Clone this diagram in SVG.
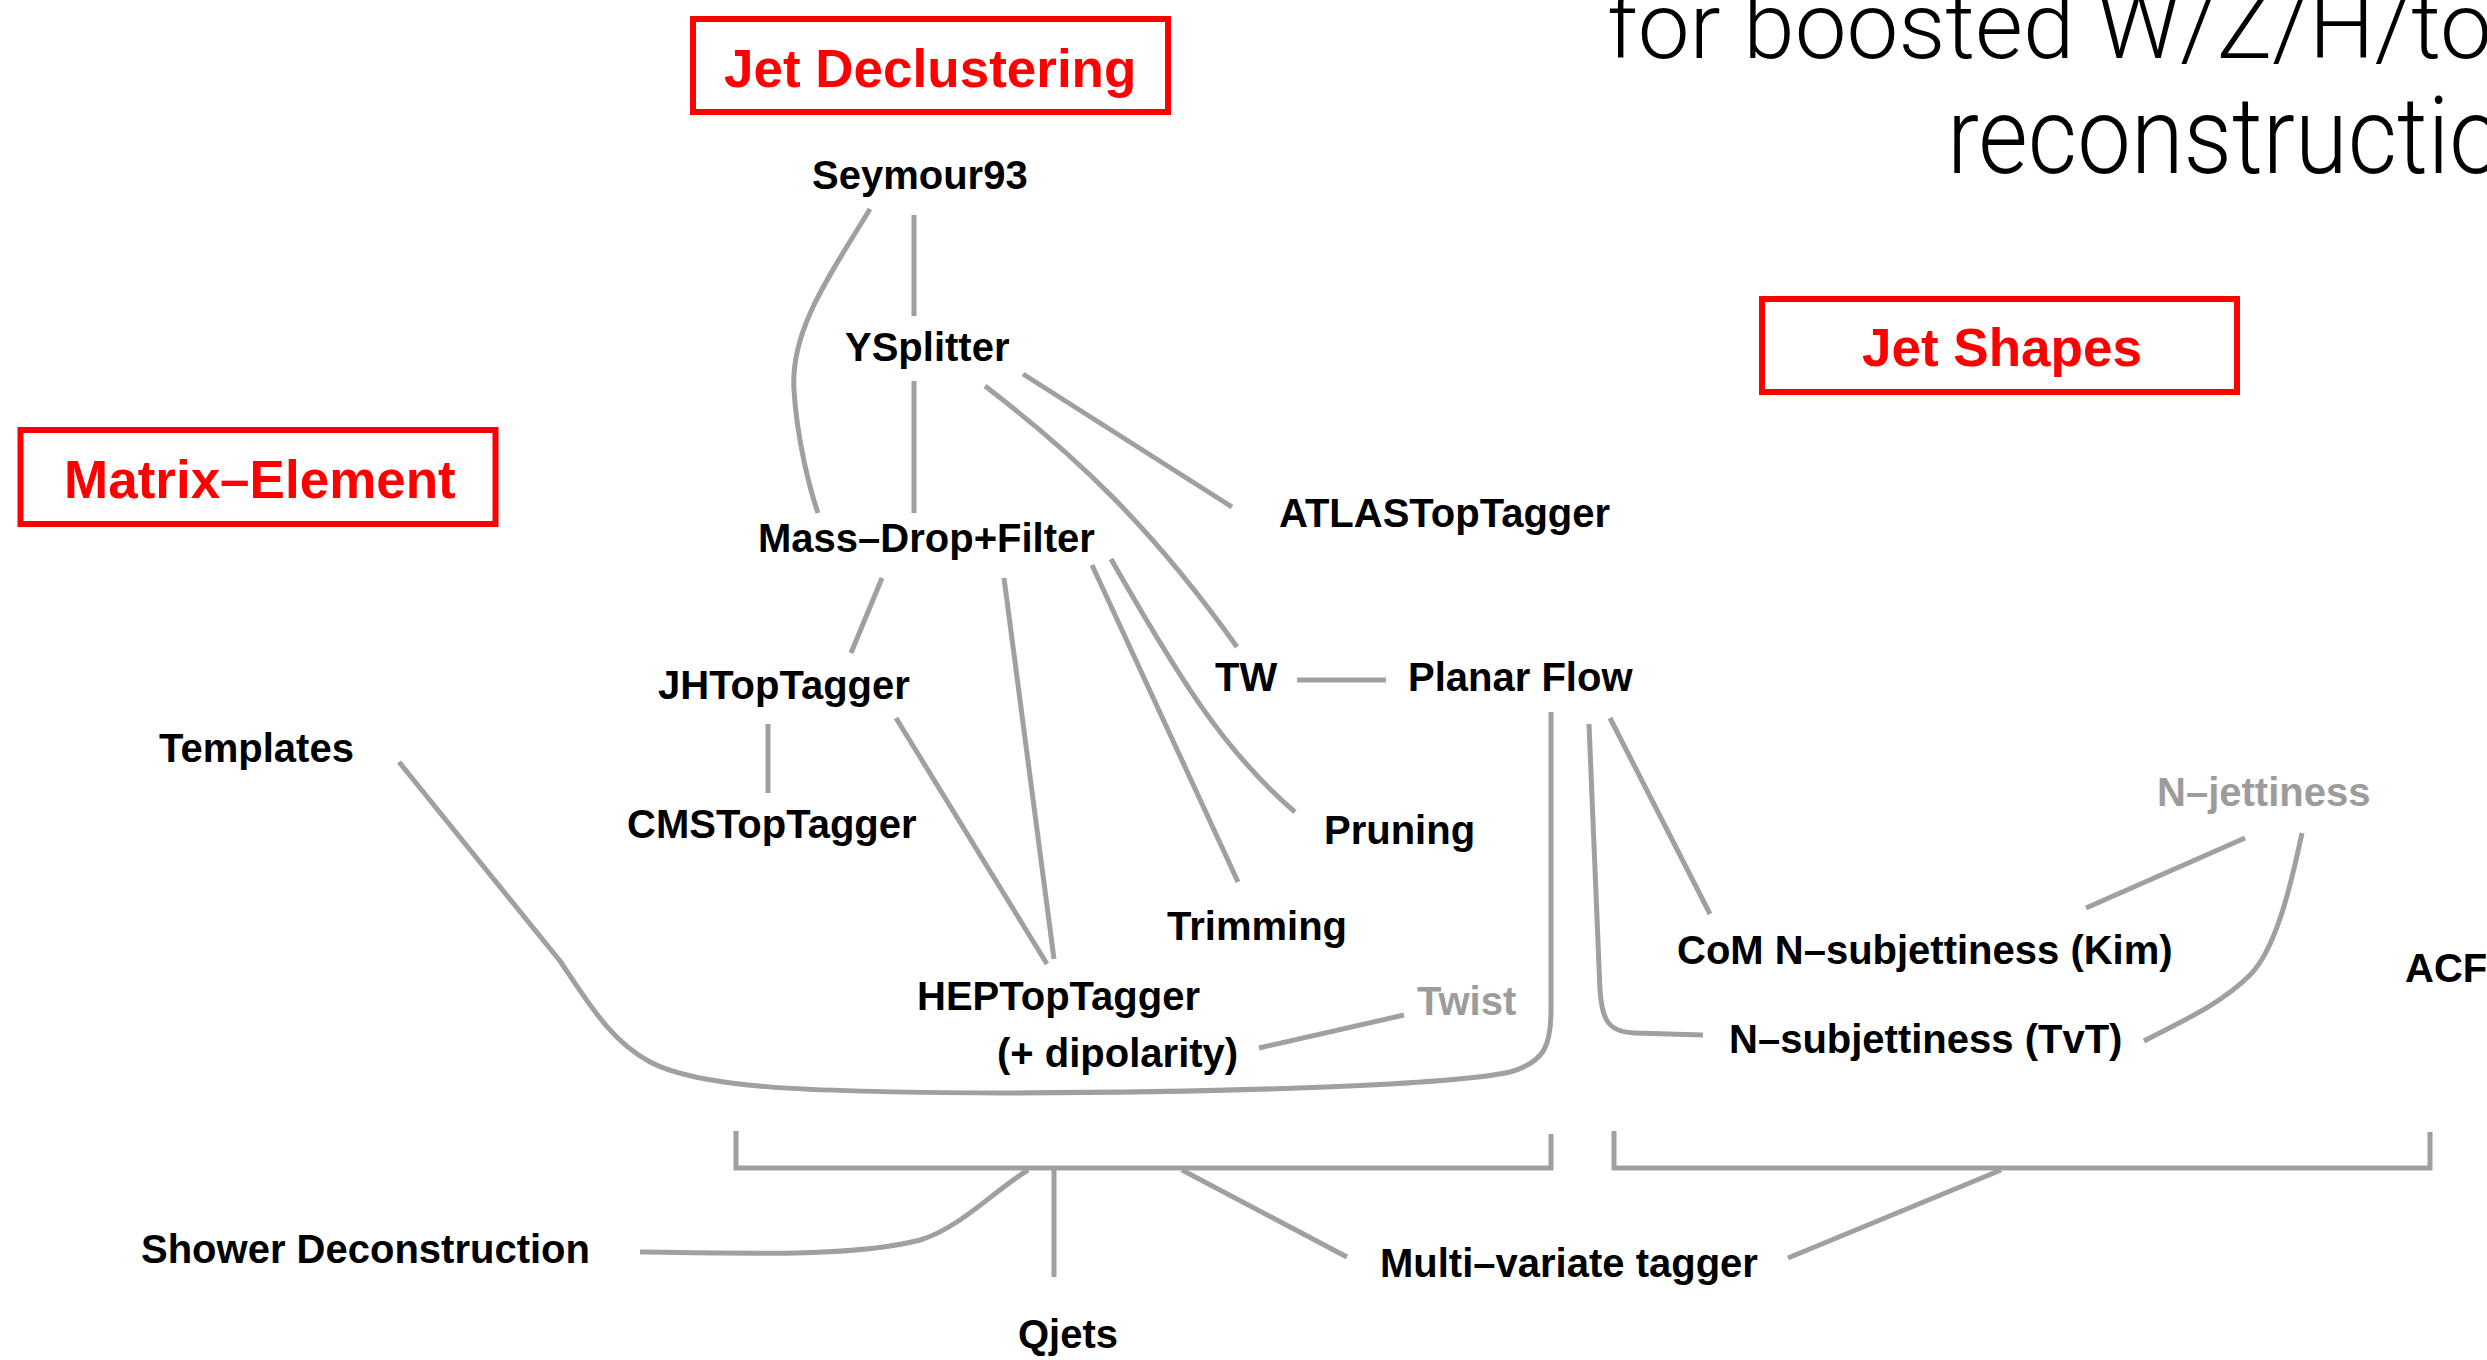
<svg xmlns="http://www.w3.org/2000/svg" width="2487" height="1360" viewBox="0 0 2487 1360">
<style>
.lbl{font-family:"Liberation Sans",Arial,Helvetica,sans-serif;font-weight:bold;font-size:40px;fill:#000}
.gray{fill:#9c9c9c}
.cat rect{fill:none;stroke:#ff0000;stroke-width:6}
.cat text{font-family:"Liberation Sans",Arial,Helvetica,sans-serif;font-weight:bold;font-size:53px;fill:#ff0000}
.title{font-family:"Roboto","Open Sans","Liberation Sans",sans-serif;font-weight:300;fill:#000}
.edge{fill:none;stroke:#a0a0a0;stroke-width:5}
</style>
<rect width="2487" height="1360" fill="#fff"/>
<g id="title">
<text class="title" x="1607" y="58" font-size="92" textLength="885" lengthAdjust="spacingAndGlyphs">for boosted W/Z/H/to</text>
<text class="title" x="1947" y="173" font-size="107" textLength="556" lengthAdjust="spacingAndGlyphs">reconstructio</text>
</g>
<g id="connectors">
<path class="edge" d="M914,215 L914,316"/>
<path class="edge" d="M870,209 C830,275 790,330 794,390 C797,440 810,490 818,513"/>
<path class="edge" d="M914,381 L914,513"/>
<path class="edge" d="M1023,374 L1232,507"/>
<path class="edge" d="M985,386 C1075,455 1150,525 1237,647"/>
<path class="edge" d="M882,578 L851,653"/>
<path class="edge" d="M1004,578 L1054,959"/>
<path class="edge" d="M1092,565 L1238,882"/>
<path class="edge" d="M1111,559 C1180,680 1225,752 1295,812"/>
<path class="edge" d="M768,724 L768,793"/>
<path class="edge" d="M896,718 L1047,964"/>
<path class="edge" d="M1297,680 L1386,680"/>
<path class="edge" d="M399,762 L560,961 C590,1005 610,1040 650,1062 C700,1088 800,1092 1000,1093 C1250,1092 1450,1085 1510,1072 C1545,1062 1551,1045 1551,1010 L1551,712"/>
<path class="edge" d="M1589,724 L1600,990 C1602,1020 1608,1032 1635,1033 L1703,1035"/>
<path class="edge" d="M1610,718 L1710,914"/>
<path class="edge" d="M2086,908 L2245,838"/>
<path class="edge" d="M2144,1041 C2180,1022 2220,1005 2250,975 C2275,950 2290,890 2302,833"/>
<path class="edge" d="M1259,1048 L1404,1015"/>
<path class="edge" d="M736,1131 L736,1168 L1551,1168 L1551,1134"/>
<path class="edge" d="M1614,1131 L1614,1168 L2430,1168 L2430,1132"/>
<path class="edge" d="M1182,1170 L1347,1257"/>
<path class="edge" d="M2001,1170 L1788,1258"/>
<path class="edge" d="M1054,1168 L1054,1277"/>
<path class="edge" d="M640,1252 C760,1254 860,1256 920,1240 C960,1228 995,1190 1028,1170"/>
</g>
<g id="cat-jet-declustering" class="cat"><rect x="693" y="19" width="475" height="93"/><text x="724" y="87">Jet Declustering</text></g>
<g id="cat-matrix-element" class="cat"><rect x="20.5" y="430" width="475" height="94"/><text x="64" y="498">Matrix–Element</text></g>
<g id="cat-jet-shapes" class="cat"><rect x="1762" y="299" width="475" height="93"/><text x="1862" y="366">Jet Shapes</text></g>
<g id="n-seymour93"><text class="lbl" x="812" y="189">Seymour93</text></g>
<g id="n-ysplitter"><text class="lbl" x="845" y="361">YSplitter</text></g>
<g id="n-massdrop"><text class="lbl" x="758" y="552">Mass–Drop+Filter</text></g>
<g id="n-atlas"><text class="lbl" x="1279" y="527">ATLASTopTagger</text></g>
<g id="n-jh"><text class="lbl" x="658" y="699">JHTopTagger</text></g>
<g id="n-tw"><text class="lbl" x="1215" y="691">TW</text></g>
<g id="n-planarflow"><text class="lbl" x="1408" y="691">Planar Flow</text></g>
<g id="n-templates"><text class="lbl" x="159" y="762">Templates</text></g>
<g id="n-cms"><text class="lbl" x="627" y="838">CMSTopTagger</text></g>
<g id="n-pruning"><text class="lbl" x="1324" y="844">Pruning</text></g>
<g id="n-trimming"><text class="lbl" x="1167" y="940">Trimming</text></g>
<g id="n-hep"><text class="lbl" x="917" y="1010">HEPTopTagger</text><text class="lbl" x="997" y="1067">(+ dipolarity)</text></g>
<g id="n-twist"><text class="lbl gray" x="1417" y="1015">Twist</text></g>
<g id="n-com"><text class="lbl" x="1677" y="964">CoM N–subjettiness (Kim)</text></g>
<g id="n-tvt"><text class="lbl" x="1729" y="1053">N–subjettiness (TvT)</text></g>
<g id="n-njettiness"><text class="lbl gray" x="2157" y="806">N–jettiness</text></g>
<g id="n-acf"><text class="lbl" x="2405" y="982">ACF</text></g>
<g id="n-shower"><text class="lbl" x="141" y="1263">Shower Deconstruction</text></g>
<g id="n-mva"><text class="lbl" x="1380" y="1277">Multi–variate tagger</text></g>
<g id="n-qjets"><text class="lbl" x="1018" y="1348">Qjets</text></g>
</svg>
